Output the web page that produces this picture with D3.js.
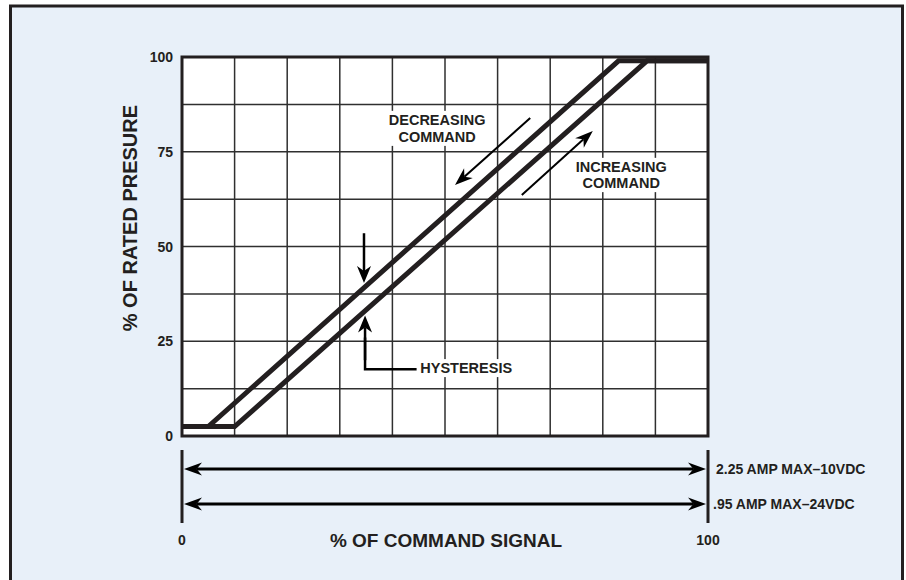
<!DOCTYPE html>
<html>
<head>
<meta charset="utf-8">
<script src="https://cdn.jsdelivr.net/npm/d3@7"></script>
<style>
  body { margin: 0; background: #fff; }
  svg text { font-family: "Liberation Sans", Arial, sans-serif; font-weight: bold; fill: #231f20; }
</style>
</head>
<body>
<div id="chart"></div>
<script>
// pressure (%) against command signal (%)
const increasingX = [0, 10, 88.4, 100];
const increasingY = [2.5, 2.5, 99, 99];
const decreasingX = [0, 5, 83, 100];
const decreasingY = [2.5, 2.5, 99, 99];

const yTicks = [0, 25, 50, 75, 100];
const yGrid = [12.5, 25, 37.5, 50, 62.5, 75, 87.5];
const xGrid = [10, 20, 30, 40, 50, 60, 70, 80, 90];
const xEnds = [0, 100];
const supplyLabels = ["2.25 AMP MAX\u201310VDC", ".95 AMP MAX\u201324VDC"];

let width = 906, height = 580;
let ink = "#231f20";

let svg = d3.select("#chart")
    .append("svg")
    .attr("width", width)
    .attr("height", height);

// outer panel
svg.append("rect")
    .attr("x", 10.5).attr("y", 6)
    .attr("width", 892).attr("height", 590)
    .attr("fill", "#e8f0f9")
    .attr("stroke", ink)
    .attr("stroke-width", 3);

let x = d3.scaleLinear().domain([0, 100]).range([182, 708]);
let y = d3.scaleLinear().domain([0, 100]).range([436, 57]);

// plot background
svg.append("rect")
    .attr("x", x(0)).attr("y", y(100))
    .attr("width", x(100) - x(0)).attr("height", y(0) - y(100))
    .attr("fill", "#fff");

// grid
let grid = svg.append("g").attr("stroke", "#2f2f2f").attr("stroke-width", 1.5);
grid.selectAll(".v").data(xGrid).enter().append("line")
    .attr("x1", d => x(d)).attr("x2", d => x(d))
    .attr("y1", y(0)).attr("y2", y(100));
grid.selectAll(".h").data(yGrid).enter().append("line")
    .attr("x1", x(0)).attr("x2", x(100))
    .attr("y1", d => y(d)).attr("y2", d => y(d));

// text labels with white boxes (drawn before curves)
function boxedText(lines, cx, baselines, anchor) {
    let g = svg.append("g");
    let texts = lines.map((t, i) => g.append("text")
        .attr("x", cx).attr("y", baselines[i])
        .attr("text-anchor", anchor)
        .attr("font-size", 14.5)
        .text(t));
    let b = g.node().getBBox();
    g.insert("rect", "text")
        .attr("x", b.x - 3).attr("y", b.y - 1)
        .attr("width", b.width + 6).attr("height", b.height + 2)
        .attr("fill", "#fff");
    return g;
}

boxedText(["DECREASING", "COMMAND"], x(48.5), [y(82.1), y(77.6)], "middle");
boxedText(["INCREASING", "COMMAND"], x(83.5), [y(69.7), y(65.4)], "middle");
boxedText(["HYSTERESIS"], x(45.3), [y(16.6)], "start");

// plot frame
svg.append("rect")
    .attr("x", x(0)).attr("y", y(100))
    .attr("width", x(100) - x(0)).attr("height", y(0) - y(100))
    .attr("fill", "none")
    .attr("stroke", ink)
    .attr("stroke-width", 3);

// curves
let line = d3.line().x(d => x(d[0])).y(d => y(d[1]));
let curves = [d3.zip(increasingX, increasingY), d3.zip(decreasingX, decreasingY)];
svg.append("g").selectAll("path")
    .data(curves)
    .enter()
    .append("path")
    .attr("d", line)
    .attr("fill", "none")
    .attr("stroke", ink)
    .attr("stroke-width", 5)
    .attr("stroke-linejoin", "miter");

// arrow helper, pixel coords; (x2,y2) is the tip
function arrow(x1, y1, x2, y2, w, len, half) {
    let a = Math.atan2(y2 - y1, x2 - x1);
    let c = Math.cos(a), s = Math.sin(a);
    let bx = x2 - c * len, by = y2 - s * len;
    let nx = x2 - c * len * 0.7, ny = y2 - s * len * 0.7;
    svg.append("line")
        .attr("x1", x1).attr("y1", y1).attr("x2", nx).attr("y2", ny)
        .attr("stroke", "#000").attr("stroke-width", w);
    svg.append("path")
        .attr("d", `M${x2},${y2}L${bx - s * half},${by + c * half}L${nx},${ny}L${bx + s * half},${by - c * half}Z`)
        .attr("fill", "#000");
}

arrow(x(66.2), y(83.9), x(51.9), y(66.2), 2, 18, 6.5);
arrow(x(64.6), y(63.6), x(78.1), y(80.5), 2, 18, 6.5);

// hysteresis markers
arrow(x(34.6), y(53.5), x(34.6), y(40.4), 2.5, 17, 7);
svg.append("path")
    .attr("d", `M${x(44.6)},${y(17.6)}H${x(34.8)}V${y(26)}`)
    .attr("fill", "none").attr("stroke", "#000").attr("stroke-width", 2.5);
arrow(x(34.8), y(20), x(34.8), y(31.8), 2.5, 17, 7);

// y tick labels
svg.append("g").selectAll("text")
    .data(yTicks)
    .enter()
    .append("text")
    .attr("x", x(0) - 9)
    .attr("y", d => y(d) + 5)
    .attr("text-anchor", "end")
    .attr("font-size", 14)
    .text(d => d);

svg.append("text")
    .attr("transform", `translate(137,${y(57.5)}) rotate(-90)`)
    .attr("text-anchor", "middle")
    .attr("font-size", 20)
    .text("% OF RATED PRESURE");

// command signal range bars
svg.append("g").selectAll("line")
    .data(xEnds)
    .enter()
    .append("line")
    .attr("x1", d => x(d)).attr("x2", d => x(d))
    .attr("y1", 450).attr("y2", 523)
    .attr("stroke", ink).attr("stroke-width", 3);

[469, 504].forEach(py => {
    arrow(x(50), py, x(0) + 2, py, 3, 18, 6.5);
    arrow(x(50), py, x(100) - 2, py, 3, 18, 6.5);
});

svg.append("g").selectAll("text")
    .data(supplyLabels)
    .enter()
    .append("text")
    .attr("x", (d, i) => x(100) + (i ? 5 : 8))
    .attr("y", (d, i) => [474, 509][i])
    .attr("font-size", 14)
    .text(d => d);

svg.append("g").selectAll("text")
    .data(xEnds)
    .enter()
    .append("text")
    .attr("x", d => x(d))
    .attr("y", 545)
    .attr("text-anchor", "middle")
    .attr("font-size", 14)
    .text(d => d);

svg.append("text")
    .attr("x", 446)
    .attr("y", 547)
    .attr("text-anchor", "middle")
    .attr("font-size", 19)
    .text("% OF COMMAND SIGNAL");
</script>
</body>
</html>
